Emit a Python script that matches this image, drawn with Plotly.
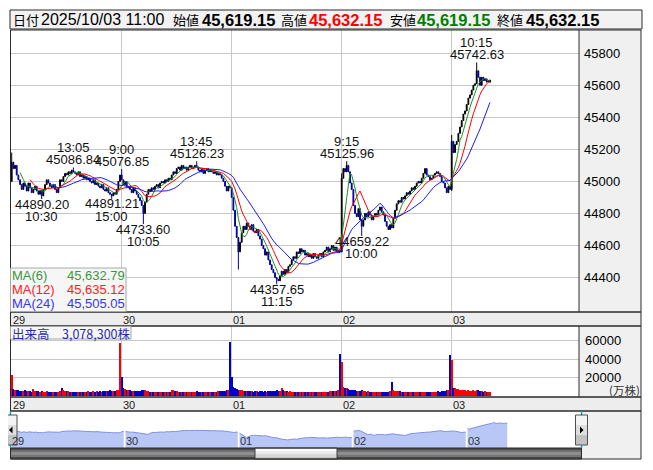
import plotly.graph_objects as go
import pandas as pd

# ---------------- data ----------------
day_labels = ["29", "30", "01", "02", "03"]

close_29 = [45120, 45080, 45100, 45040, 45010, 44980, 44950, 44990, 44970, 44940,
            44990, 44960, 44930, 44950, 44970, 44940, 44920, 44945, 44910, 44950,
            44980, 45010, 44990, 44970, 44960, 44980, 44950, 44930, 44960, 45010,
            45000, 45030, 45050, 45040, 45060, 45050, 45070, 45060, 45050, 45040,
            45060, 45030, 45040, 45020, 45030, 45010, 45020, 45000, 44990, 45010,
            44980, 44990, 44970, 44960, 44980, 44950, 44940, 44960, 44930, 44920,
            44910, 44930, 44920, 44950, 45000, 45040]
close_30 = [45010, 44980, 45000, 44960, 44970, 44950, 44930, 44960, 44940, 44920,
            44900, 44880, 44850, 44800, 44870, 44920, 44950, 44940, 44960, 44950,
            44970, 44980, 44960, 44990, 45000, 44990, 45010, 45000, 45020, 45010,
            45040, 45060, 45050, 45080, 45090, 45070, 45100, 45080, 45090, 45070,
            45090, 45100, 45080, 45090, 45100, 45090, 45070, 45060, 45080, 45050,
            45070, 45080, 45060, 45070, 45060, 45050, 45060, 45040, 45050, 45040,
            45020, 45000, 44970, 44940, 44970, 44960]
close_01 = [44900, 44820, 44720, 44650, 44560, 44620, 44680, 44720, 44700, 44740,
            44720, 44700, 44730, 44690, 44680, 44700, 44660, 44640, 44600, 44580,
            44540, 44560, 44510, 44480, 44450, 44430, 44400, 44390, 44380, 44410,
            44440, 44420, 44450, 44430, 44470, 44480, 44510, 44530, 44520, 44560,
            44550, 44580, 44560, 44570, 44540, 44550, 44530, 44540, 44520, 44550,
            44530, 44520, 44540, 44550, 44530, 44560, 44570, 44590, 44560, 44580,
            44600, 44570, 44590, 44560, 44570, 44560]
close_02 = [45020, 45080, 45060, 45100, 45060, 44990, 44950, 44850, 44800, 44780,
            44830, 44760, 44720, 44760, 44800, 44780, 44810, 44790, 44760, 44780,
            44800, 44790, 44820, 44840, 44810, 44790, 44750, 44720, 44700, 44730,
            44710, 44770, 44820, 44860, 44880, 44870, 44900, 44890, 44910, 44930,
            44920, 44940, 44960, 44950, 44970, 44990, 45000, 44990, 45020, 45050,
            45080, 45040, 45030, 45010, 45020, 45040, 45050, 45060, 45050, 45030,
            45000, 44990, 44960, 44930, 44970, 44950]
close_03 = [45250, 45180, 45230, 45250, 45300, 45340, 45380, 45420, 45440, 45480,
            45520, 45540, 45570, 45600, 45610, 45690, 45650, 45600, 45650, 45630,
            45640, 45620, 45630, 45632.15]

day_open = [45000, 45040, 44960, 44560, 44950]

vol_29 = [23000, 7500, 6800, 6200, 6000, 5600, 5800, 5200, 6000, 5000,
          5400, 5200, 4800, 8000, 5000, 5500, 5000, 4800, 5200, 4800,
          4600, 5000, 4800, 4500, 4800, 4500, 4600, 4400, 4500, 5000,
          9000, 6000, 5500, 5200, 5000, 4800, 4500, 4800, 4600, 4500,
          4400, 4600, 4500, 4800, 4600, 4500, 5200, 4800, 4600, 5000,
          4800, 5200, 4600, 5000, 4800, 5400, 5000, 5600, 5200, 6000,
          5800, 5400, 5600, 6200, 6800, 57000]
vol_30 = [21000, 9000, 8000, 7000, 6500, 6000, 5500, 5200, 5800, 5000,
          5400, 5200, 6000, 7000, 6500, 5600, 5000, 4800, 4600, 4500,
          4800, 4400, 4500, 4600, 4400, 4500, 4300, 4400, 4500, 4600,
          7000, 6000, 5200, 5000, 4800, 4600, 4500, 4400, 4600, 4500,
          4400, 4300, 4500, 4400, 4600, 5000, 4800, 4500, 4400, 4600,
          4500, 4400, 4500, 4600, 4400, 4700, 4600, 4800, 5200, 5400,
          5000, 5200, 5600, 6000, 6400, 58000]
vol_01 = [21000, 9500, 9000, 8000, 7000, 6500, 6000, 5500, 5800, 5200,
          5000, 5400, 5000, 4800, 5200, 5000, 4800, 5000, 5200, 4800,
          5000, 4700, 4900, 5200, 5000, 5400, 5800, 6500, 5200, 5000,
          8500, 6000, 5500, 5000, 4800, 5200, 4600, 4500, 4700, 4400,
          4500, 4300, 4400, 4600, 4500, 4400, 4300, 4500, 4400, 4600,
          4500, 4400, 4300, 4500, 4600, 4400, 4500, 4700, 4800, 5000,
          5200, 5400, 5000, 5600, 6000, 45000]
vol_02 = [37000, 10000, 9000, 8500, 7500, 7000, 6500, 6200, 6000, 5800,
          5500, 5600, 6000, 5200, 5000, 4800, 5000, 4700, 4800, 4600,
          4800, 4500, 4700, 4600, 4800, 4500, 4600, 4800, 4700, 5000,
          15000, 6500, 5800, 5500, 5200, 5000, 4800, 4600, 4700, 4500,
          4600, 4400, 4500, 4600, 4400, 4500, 4300, 4400, 4500, 4600,
          4400, 4500, 4300, 4400, 4600, 4500, 4400, 4800, 5000, 4800,
          5200, 5400, 5600, 6000, 6400, 44000]
vol_03 = [39000, 9000, 8500, 8000, 7500, 7000, 6500, 6000, 6200, 5800,
          6000, 5500, 5800, 6000, 5500, 7000, 6000, 5200, 5000, 4800,
          5000, 4600, 4800, 4400]

# labelled extremes (bar index, price, time)
hi_label_idx = [37, 66, 111, 201, 279]
hi_label_val = [45086.84, 45076.85, 45126.23, 45125.96, 45742.63]
hi_label_time = ["13:05", "9:00", "13:45", "9:15", "10:15"]
lo_label_idx = [18, 60, 79, 159, 210]
lo_label_val = [44890.20, 44891.21, 44733.60, 44357.65, 44659.22]
lo_label_time = ["10:30", "15:00", "10:05", "11:15", "10:00"]

# other visible wicks
wick_hi_idx = [0, 198, 264]
wick_hi_val = [45180, 45050, 45290]
wick_lo_idx = [136, 264]
wick_lo_val = [44450, 44940]

price_ticks = [44400, 44600, 44800, 45000, 45200, 45400, 45600, 45800]
vol_ticks = [20000, 40000, 60000]

hdr_date = "2025/10/03 11:00"
hdr_open, hdr_high, hdr_low, hdr_close = 45619.15, 45632.15, 45619.15, 45632.15
ma_periods = [6, 12, 24]
ma_text = ["45,632.79", "45,635.12", "45,505.05"]
volume_text = "3,078,300株"

# ---------------- build series ----------------
closes_by_day = [close_29, close_30, close_01, close_02, close_03]
vols_by_day = [vol_29, vol_30, vol_01, vol_02, vol_03]
closes = sum(closes_by_day, [])
vols = sum(vols_by_day, [])
n = len(closes)
idx = list(range(n))
day_start = []
s0 = 0
for c in closes_by_day:
    day_start.append(s0)
    s0 += len(c)

opens = []
for i in range(n):
    if i in day_start:
        opens.append(day_open[day_start.index(i)])
    else:
        opens.append(closes[i - 1])
opens[-1] = hdr_open
highs = [max(o, c) for o, c in zip(opens, closes)]
lows = [min(o, c) for o, c in zip(opens, closes)]
for i, v in zip(hi_label_idx + wick_hi_idx, hi_label_val + wick_hi_val):
    highs[i] = max(highs[i], v)
for i, v in zip(lo_label_idx + wick_lo_idx, lo_label_val + wick_lo_val):
    lows[i] = min(lows[i], v)

ser = pd.Series(closes, dtype=float)
mas = [ser.rolling(p).mean() for p in ma_periods]

# ---------------- geometry helpers (page pixels -> paper) ----------------
W, H = 653, 470
OFF = 8  # the page body margin


def px(x):
    return (x - OFF) / W


def py(y):
    return 1 - (y - OFF) / H


NUM = "Liberation Sans, Arial, sans-serif"
CJK = "Noto Sans CJK JP, sans-serif"
GRID = "#c8c8c8"
BORDER = "#2a2a2a"
UP_C = "#000000"
DN_C = "#0000a0"
MA_COL = ["#1f8f1f", "#ff0000", "#1a1aff"]
MA_TXT = ["#3c963c", "#ff2020", "#3535ff"]

fig = go.Figure()

fig.add_trace(go.Candlestick(
    x=idx, open=opens, high=highs, low=lows, close=closes,
    increasing=dict(line=dict(color=UP_C, width=1), fillcolor=UP_C),
    decreasing=dict(line=dict(color=DN_C, width=1), fillcolor=DN_C),
    whiskerwidth=0, hoverinfo="skip", xaxis="x", yaxis="y"))

for m, col in zip(mas, MA_COL):
    fig.add_trace(go.Scatter(x=idx, y=m, mode="lines", line=dict(color=col, width=1),
                             hoverinfo="skip", xaxis="x", yaxis="y"))

vcol = ["#ff0000" if c >= o else "#0000cc" for o, c in zip(opens, closes)]
fig.add_trace(go.Bar(x=idx, y=vols, marker=dict(color=vcol, line=dict(width=0)),
                     width=0.75, hoverinfo="skip", xaxis="x2", yaxis="y2"))

for d, st in enumerate(day_start):
    cl = closes_by_day[d]
    fig.add_trace(go.Scatter(x=list(range(st, st + len(cl))), y=cl, mode="lines",
                             fill="tozeroy", fillcolor="#b9c7f6",
                             line=dict(color="#8191dc", width=1),
                             hoverinfo="skip", xaxis="x3", yaxis="y3"))

# ---------------- axes ----------------
x_px0, x_pxbar = 11.7, 110 / 66
x_rng = [(11 - x_px0) / x_pxbar, (579 - x_px0) / x_pxbar]
nav0, navbar = 11.5, 114 / 66
nav_rng = [(10.5 - nav0) / navbar, (581.5 - nav0) / navbar]
day_ticks = day_start[1:]

common_x = dict(range=x_rng, tickvals=day_ticks, showticklabels=False, showgrid=True,
                gridcolor=GRID, gridwidth=1, zeroline=False, showline=False, ticks="",
                fixedrange=True)

fig.update_layout(
    width=W, height=H, margin=dict(l=0, r=0, t=0, b=0), autosize=False,
    paper_bgcolor="white", plot_bgcolor="rgba(0,0,0,0)", showlegend=False,
    hovermode=False,
    xaxis=dict(domain=[px(11), px(579)], anchor="y", rangeslider=dict(visible=False),
               **common_x),
    yaxis=dict(domain=[py(312), py(30)], range=[44185, 45945], side="right",
               anchor="x", tickvals=price_ticks, ticktext=[str(v) for v in price_ticks],
               showgrid=True, gridcolor=GRID,
               zeroline=False, ticks="", ticklabelstandoff=4,
               tickfont=dict(family=NUM, size=13, color="black"), fixedrange=True),
    xaxis2=dict(domain=[px(11), px(579)], anchor="y2", **common_x),
    yaxis2=dict(domain=[py(396), py(326)], range=[0, 75676], side="right",
                anchor="x2", tickvals=vol_ticks, ticktext=[str(v) for v in vol_ticks],
                showgrid=True, gridcolor=GRID,
                zeroline=False, ticks="", ticklabelstandoff=5,
                tickfont=dict(family=NUM, size=13, color="black"), fixedrange=True),
    xaxis3=dict(domain=[px(10.5), px(581.5)], anchor="y3", range=nav_rng,
                visible=False, fixedrange=True),
    yaxis3=dict(domain=[py(448), py(411)], anchor="x3", range=[43777, 46552],
                visible=False, fixedrange=True),
    bargap=0,
)

# ---------------- frames / decorations ----------------
shapes = []


def rect(x0, y0, x1, y1, fill=None, line=None, lw=1, layer="below"):
    shapes.append(dict(type="rect", xref="paper", yref="paper",
                       x0=px(x0), x1=px(x1), y0=py(y1), y1=py(y0),
                       fillcolor=fill if fill else "rgba(0,0,0,0)",
                       line=dict(color=line if line else "rgba(0,0,0,0)",
                                 width=lw if line else 0),
                       layer=layer))


def vline(x, y0, y1, color=BORDER, layer="above", w=1):
    shapes.append(dict(type="line", xref="paper", yref="paper", x0=px(x), x1=px(x),
                       y0=py(y0), y1=py(y1), line=dict(color=color, width=w), layer=layer))


def tri(points, color="black"):
    path = "M " + " L ".join(f"{px(a)},{py(b)}" for a, b in points) + " Z"
    shapes.append(dict(type="path", xref="paper", yref="paper", path=path,
                       fillcolor=color, line=dict(color=color, width=0), layer="above"))


# header
rect(10, 10, 642, 29, fill="#f2f2f2", line=BORDER)
# price panel
rect(579, 30, 641, 312, fill="#f0f0f0")
# date strip 1
rect(10, 312, 641, 326, fill="#ededed")
# volume panel
rect(579, 326, 641, 397, fill="#f0f0f0")
# date strip 2
rect(10, 397, 641, 411, fill="#ededed")
# navigator right part
rect(581.5, 411, 641, 459, fill="#f0f0f0")

# borders above traces
rect(10.5, 30, 641, 312, line=BORDER, layer="above")
vline(579, 30, 312)
rect(10.5, 312, 641, 326, line=BORDER, layer="above")
rect(10.5, 326, 641, 397, line=BORDER, layer="above")
vline(579, 326, 397)
rect(10.5, 397, 641, 411, line=BORDER, layer="above")
rect(10.5, 411, 641, 459, line=BORDER, layer="above")
vline(581.5, 411, 459)

# scrollbar
for (a, b, c) in [(448, 450, "#4a4a4a"), (450, 452, "#707070"), (452, 455, "#8e8e8e"),
                  (455, 457, "#747474"), (457, 459, "#4a4a4a")]:
    rect(10.5, a, 581.5, b, fill=c, layer="above")
for (a, b, c) in [(448, 451, "#fbfbfb"), (451, 454, "#ececec"), (454, 457, "#d8d8d8"),
                  (457, 459, "#c4c4c4")]:
    rect(255, a, 337, b, fill=c, layer="above")
rect(255, 448, 337, 459, line="#404040", layer="above")
rect(10.5, 448, 581.5, 459, line=BORDER, layer="above")

# navigator buttons
for bx in (5, 575.5):
    for (a, b, c) in [(415, 425, "#f4f4f4"), (425, 435, "#dedede"), (435, 445, "#c2c2c2")]:
        rect(bx, a, bx + 12, b, fill=c, layer="above")
    rect(bx, 415, bx + 12, 445, line="#505050", layer="above")
tri([(9, 430), (12.5, 426.5), (12.5, 433.5)])
tri([(583.5, 430), (580, 426.5), (580, 433.5)])
for xx in (10.5, 581.5):
    vline(xx, 411, 414, color="#00a8c8", w=1.5)
    vline(xx, 445, 448, color="#00a8c8", w=1.5)

# MA legend box and volume label box
rect(10.5, 268, 126, 311.5, fill="#f6f6f6", line="#a8a8a8", layer="above")
rect(10.5, 326.5, 131, 339, fill="#f6f6f6", line="#a8a8a8", layer="above")

fig.update_layout(shapes=shapes)

# ---------------- texts ----------------
ann = []


def text(t, x, y, size=13, color="black", family=NUM, xanchor="left", yanchor="middle"):
    ann.append(dict(text=t, x=px(x), y=py(y), xref="paper", yref="paper",
                    showarrow=False, xanchor=xanchor, yanchor=yanchor,
                    borderpad=0, borderwidth=0,
                    font=dict(family=family, size=size, color=color)))


# header
hy = 19.5
text("日付", 13, hy, 13, family=CJK)
text(hdr_date, 41, hy, 16)
text("始値", 173, hy, 13, family=CJK)
text(f"<b>{hdr_open:,.2f}</b>", 202, hy, 16.5)
text("高値", 281, hy, 13, family=CJK)
text(f"<b>{hdr_high:,.2f}</b>", 309, hy, 16.5, color="#ff0000")
text("安値", 390, hy, 13, family=CJK)
text(f"<b>{hdr_low:,.2f}</b>", 417, hy, 16.5, color="#008000")
text("終値", 497, hy, 13, family=CJK)
text(f"<b>{hdr_close:,.2f}</b>", 526, hy, 16.5)

# MA legend
for k, (p, t) in enumerate(zip(ma_periods, ma_text)):
    yy = 275.5 + 13.8 * k
    text(f"MA({p})", 12, yy, 13, color=MA_TXT[k])
    text(t, 125, yy, 13, color=MA_TXT[k], xanchor="right")

# volume label
text("出来高　" + volume_text, 12, 333, 12.5, color="#2b2bb5", family=CJK)
text("(万株)", 640, 390, 11.5, color="#333333", family=CJK, xanchor="right")

# day labels in the date strips and navigator
for d, st in enumerate(day_start):
    gx = x_px0 + st * x_pxbar
    text(day_labels[d], gx + 1.2, 319.5, 11, color="#222222")
    text(day_labels[d], gx + 1.2, 404.5, 11, color="#222222")
    nx = nav0 + st * navbar
    text(day_labels[d], nx + 0.8, 441, 11, color="#333333")

# extreme labels (data coordinates)
for i, v, t in zip(hi_label_idx, hi_label_val, hi_label_time):
    ann.append(dict(text=f"{v:.2f}", x=i, y=v, xref="x", yref="y", showarrow=False,
                    yshift=8, xanchor="center", yanchor="middle", borderpad=0,
                    font=dict(family=NUM, size=13, color="#111111")))
    ann.append(dict(text=t, x=i, y=v, xref="x", yref="y", showarrow=False,
                    yshift=20, xanchor="center", yanchor="middle", borderpad=0,
                    font=dict(family=NUM, size=13, color="#111111")))
for i, v, t in zip(lo_label_idx, lo_label_val, lo_label_time):
    ann.append(dict(text=f"{v:.2f}", x=i, y=v, xref="x", yref="y", showarrow=False,
                    yshift=-5, xanchor="center", yanchor="middle", borderpad=0,
                    font=dict(family=NUM, size=13, color="#111111")))
    ann.append(dict(text=t, x=i, y=v, xref="x", yref="y", showarrow=False,
                    yshift=-17.5, xanchor="center", yanchor="middle", borderpad=0,
                    font=dict(family=NUM, size=13, color="#111111")))

fig.update_layout(annotations=ann)

fig.write_html("out.html")
